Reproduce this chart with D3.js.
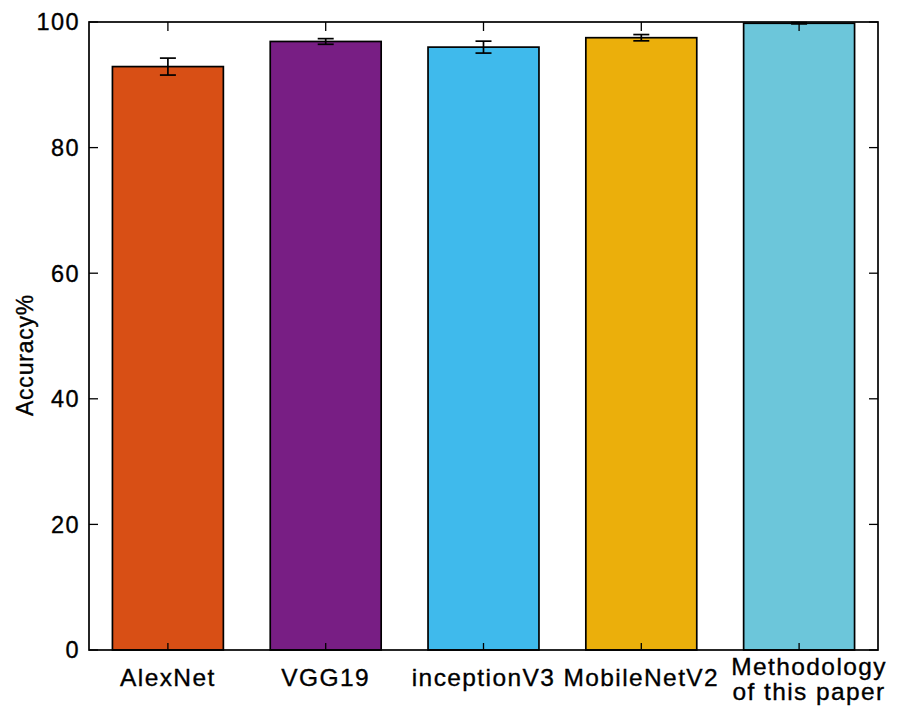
<!DOCTYPE html>
<html>
<head>
<meta charset="utf-8">
<script src="https://cdn.jsdelivr.net/npm/d3@7/dist/d3.min.js"></script>
<style>
  html, body { margin: 0; padding: 0; background: #fff; }
  svg { display: block; }
  text { font-family: "Liberation Sans", Arial, sans-serif; fill: #000; stroke: #000; stroke-width: 0.35px; }
</style>
</head>
<body>
<svg id="chart" width="902" height="706"></svg>
<script>
// Model names (label lines) and their accuracy with standard deviation
const categories = ["AlexNet", "VGG19", "inceptionV3", "MobileNetV2", "Methodology of this paper"];
const labelLines = [["AlexNet"], ["VGG19"], ["inceptionV3"], ["MobileNetV2"], ["Methodology", "of this paper"]];
const accuracy = [92.9, 96.9, 96.0, 97.5, 99.8];
const stdDev = [1.35, 0.45, 0.95, 0.5, 0.1];
const barColors = ["#d84f15", "#781e84", "#3fbaec", "#ebaf0b", "#6cc6da"];
const yTicks = [0, 20, 40, 60, 80, 100];

const svg = d3.select("#chart");
const plotLeft = 89, plotRight = 878, plotTop = 22, plotBottom = 650;

const x = d3.scaleBand()
  .domain(categories)
  .range([plotLeft, plotRight])
  .paddingInner(0.297)
  .paddingOuter(0.1485);

const y = d3.scaleLinear().domain([0, 100]).range([plotBottom, plotTop]);

// Bars
svg.append("g").selectAll("rect")
  .data(categories)
  .join("rect")
  .attr("x", d => x(d))
  .attr("y", (d, i) => y(accuracy[i]))
  .attr("width", x.bandwidth())
  .attr("height", (d, i) => y(0) - y(accuracy[i]))
  .attr("fill", (d, i) => barColors[i])
  .attr("stroke", "#000")
  .attr("stroke-width", 1.7);

// Error bars
const capW = 16;
const eb = svg.append("g").attr("stroke", "#000").attr("stroke-width", 1.7);
categories.forEach((c, i) => {
  const cx = x(c) + x.bandwidth() / 2;
  const y1 = y(accuracy[i] + stdDev[i]);
  const y2 = y(accuracy[i] - stdDev[i]);
  eb.append("line").attr("x1", cx).attr("x2", cx).attr("y1", y1).attr("y2", y2);
  eb.append("line").attr("x1", cx - capW / 2).attr("x2", cx + capW / 2).attr("y1", y1).attr("y2", y1);
  eb.append("line").attr("x1", cx - capW / 2).attr("x2", cx + capW / 2).attr("y1", y2).attr("y2", y2);
});

// Inward ticks on all four sides
const tickLen = 9;
const ticks = svg.append("g").attr("stroke", "#000").attr("stroke-width", 1.3);
yTicks.forEach(t => {
  ticks.append("line").attr("x1", plotLeft).attr("x2", plotLeft + tickLen).attr("y1", y(t)).attr("y2", y(t));
  ticks.append("line").attr("x1", plotRight).attr("x2", plotRight - tickLen).attr("y1", y(t)).attr("y2", y(t));
});
categories.forEach(c => {
  const cx = x(c) + x.bandwidth() / 2;
  ticks.append("line").attr("x1", cx).attr("x2", cx).attr("y1", plotTop).attr("y2", plotTop + tickLen);
  ticks.append("line").attr("x1", cx).attr("x2", cx).attr("y1", plotBottom).attr("y2", plotBottom - 7);
});

// Frame
svg.append("rect")
  .attr("x", plotLeft).attr("y", plotTop)
  .attr("width", plotRight - plotLeft).attr("height", plotBottom - plotTop)
  .attr("fill", "none").attr("stroke", "#000").attr("stroke-width", 1.7);

// Y tick labels
svg.append("g").selectAll("text")
  .data(yTicks)
  .join("text")
  .attr("x", 80)
  .attr("y", d => y(d))
  .attr("dy", "0.36em")
  .attr("text-anchor", "end")
  .attr("font-size", 23.5)
  .attr("letter-spacing", 1.4)
  .text(d => d);

// X category labels
const xl = svg.append("g");
categories.forEach((c, i) => {
  const cx = x(c) + x.bandwidth() / 2;
  const lines = labelLines[i];
  const t = xl.append("text")
    .attr("text-anchor", "middle")
    .attr("font-size", 24.5)
    .attr("letter-spacing", 1.4);
  if (lines.length === 1) {
    t.append("tspan").attr("x", cx).attr("y", 686).text(lines[0]);
  } else {
    lines.forEach((ln, j) => {
      t.append("tspan").attr("x", cx + 10).attr("y", 675 + j * 25).text(ln);
    });
  }
});

// Y axis title
svg.append("text")
  .attr("transform", "translate(33,355) rotate(-90)")
  .attr("text-anchor", "middle")
  .attr("font-size", 23)
  .attr("letter-spacing", 0.8)
  .text("Accuracy%");
</script>
</body>
</html>
